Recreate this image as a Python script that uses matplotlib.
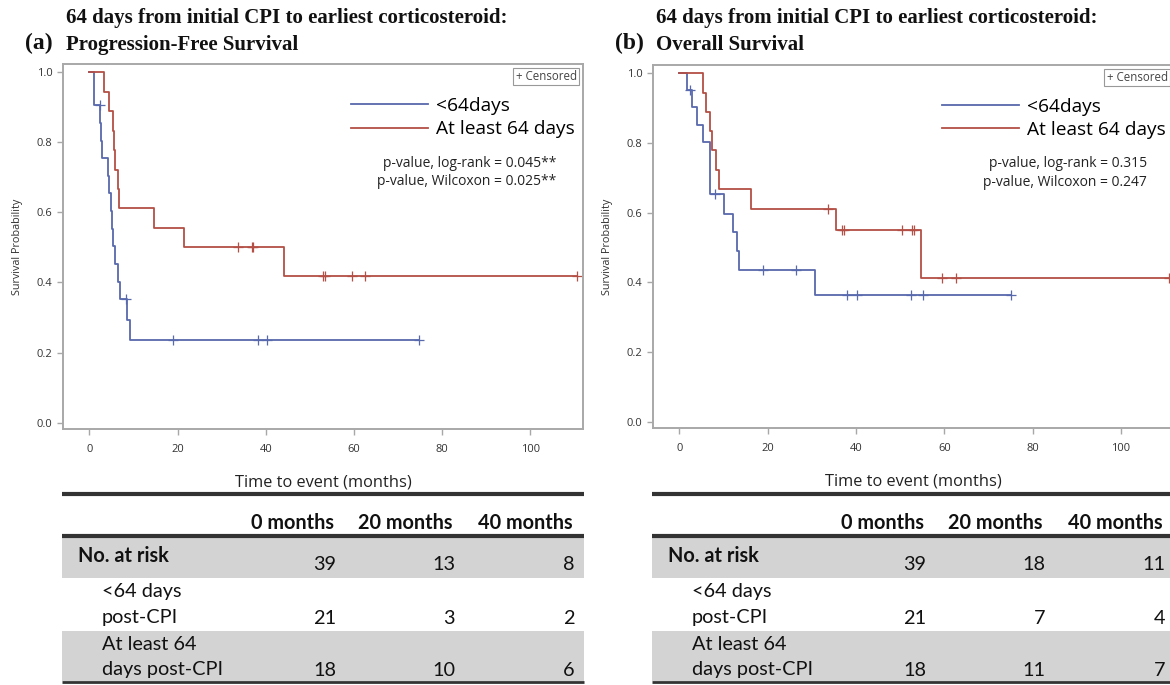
import matplotlib
matplotlib.use('Agg')
import matplotlib.pyplot as plt
from matplotlib.lines import Line2D
from matplotlib.patches import Rectangle
import numpy as np

plt.rcParams['font.family'] = ['Open Sans', 'DejaVu Sans']

# ---- data ----
# PFS, <64 days (step times / survival)
pfs_short_t = [0, 1.0, 2.4, 2.6, 2.9, 4.2, 4.4, 4.9, 5.1, 5.3, 5.9, 6.4, 7.0, 8.5, 9.3]
pfs_short_s = [1.0, 0.905, 0.855, 0.804, 0.754, 0.704, 0.654, 0.603, 0.553, 0.503,
               0.452, 0.402, 0.352, 0.293, 0.235]
pfs_short_cens = [2.3, 8.3, 18.9, 38.3, 40.2, 74.8]
# PFS, at least 64 days
pfs_long_t = [0, 3.2, 4.4, 5.3, 5.5, 5.7, 6.4, 6.6, 14.7, 21.4, 44.2]
pfs_long_s = [1.0, 0.944, 0.889, 0.833, 0.778, 0.722, 0.667, 0.611, 0.556, 0.5, 0.417]
pfs_long_cens = [33.7, 36.8, 37.1, 52.9, 53.4, 59.5, 62.5, 110.7]

# OS, <64 days
os_short_t = [0, 1.7, 2.9, 3.9, 5.4, 6.9, 10.0, 12.2, 13.0, 13.4, 30.7]
os_short_s = [1.0, 0.952, 0.902, 0.852, 0.802, 0.652, 0.597, 0.543, 0.489, 0.434, 0.362]
os_short_cens = [2.4, 8.1, 19.0, 26.5, 38.0, 40.1, 52.5, 55.1, 75.1]
# OS, at least 64 days
os_long_t = [0, 5.4, 5.9, 6.9, 7.3, 8.3, 9.0, 16.2, 35.5, 54.8]
os_long_s = [1.0, 0.944, 0.889, 0.833, 0.778, 0.722, 0.667, 0.611, 0.550, 0.413]
os_long_cens = [33.7, 36.9, 37.2, 50.5, 52.7, 53.2, 59.4, 62.7, 110.8]

group_names = ['<64days', 'At least 64 days']
pfs_pvals = ['p-value, log-rank = 0.045**', 'p-value, Wilcoxon = 0.025**']
os_pvals = ['p-value, log-rank = 0.315', 'p-value, Wilcoxon = 0.247']

risk_cols = ['0 months', '20 months', '40 months']
risk_rows = ['No. at risk', '<64 days\npost-CPI', 'At least 64\ndays post-CPI']
pfs_risk = [[39, 13, 8], [21, 3, 2], [18, 10, 6]]
os_risk = [[39, 18, 11], [21, 7, 4], [18, 11, 7]]

title_line1 = '64 days from initial CPI to earliest corticosteroid:'
titles = ['Progression-Free Survival', 'Overall Survival']
tags = ['(a)', '(b)']

blue = '#5869ad'
red = '#b34f45'
W, H = 1170, 685

fig = plt.figure(figsize=(W / 100, H / 100), dpi=100)

# overlay axes in pixel units for titles / risk tables
tab = fig.add_axes([0, 0, 1, 1])
tab.set_xlim(0, W)
tab.set_ylim(H, 0)
tab.axis('off')


def km_curve(ax, t, s, cens, color):
    t_end = max(max(cens), t[-1])
    tt = list(t) + [t_end]
    ss = list(s) + [s[-1]]
    ax.step(tt, ss, where='post', color=color, lw=1.3)
    idx = np.searchsorted(t, cens, side='right') - 1
    ax.plot(cens, np.array(s)[idx], ls='none', marker='+', ms=7, mew=0.9, color=color)


def panel(ax, curves, pvals):
    for t, s, c, col in curves:
        km_curve(ax, t, s, c, col)
    ax.set_xlim(-6, 112)
    ax.set_ylim(-0.018, 1.023)
    ax.set_xticks([0, 20, 40, 60, 80, 100])
    ax.set_yticks([0.0, 0.2, 0.4, 0.6, 0.8, 1.0])
    ax.set_yticklabels(['0.0', '0.2', '0.4', '0.6', '0.8', '1.0'])
    for sp in ax.spines.values():
        sp.set_color('#a8a8a8')
        sp.set_linewidth(1.4)
    ax.tick_params(colors='#a8a8a8', labelcolor='#333333', labelsize=8, length=4, width=1)
    ax.tick_params(axis='x', pad=7)
    ax.set_ylabel('Survival Probability', fontsize=7.8, color='#333333', labelpad=10)
    ax.set_xlabel('Time to event (months)', fontsize=11.8, color='#222222', labelpad=13.5)
    handles = [Line2D([], [], color=blue, lw=1.3), Line2D([], [], color=red, lw=1.3)]
    ax.legend(handles, group_names, loc='upper right', bbox_to_anchor=(0.985, 0.91),
              frameon=False, fontsize=13.8, handlelength=4.0, handletextpad=0.45,
              labelspacing=0.28, borderpad=0, borderaxespad=0)
    ax.text(0.948, 0.728, pvals[0], transform=ax.transAxes, ha='right', va='center',
            fontsize=10, color='#222222')
    ax.text(0.948, 0.677, pvals[1], transform=ax.transAxes, ha='right', va='center',
            fontsize=10, color='#222222')
    ax.text(0.988, 0.984, '+ Censored', transform=ax.transAxes, ha='right', va='top',
            fontsize=8.3, color='#444444',
            bbox=dict(boxstyle='square,pad=0.2', fc='white', ec='#999999', lw=0.8))


def risk_table(ox, width, counts):
    tab.plot([ox, ox + width], [494, 494], color='#333333', lw=3, solid_capstyle='butt')
    tab.plot([ox, ox + width], [536, 536], color='#333333', lw=3, solid_capstyle='butt')
    tab.plot([ox, ox + width], [682, 682], color='#333333', lw=2, solid_capstyle='butt')
    tab.add_patch(Rectangle((ox, 538), width, 40, color='#d3d3d3', lw=0))
    tab.add_patch(Rectangle((ox, 631), width, 50, color='#d3d3d3', lw=0))
    col_x = [ox + 272, ox + 391, ox + 511]
    fs = 14.3
    for x, lab in zip(col_x, risk_cols):
        tab.text(x, 523, lab, ha='right', va='center', fontsize=fs, fontweight='bold',
                 family='Lato', color='#111111')
    tab.text(ox + 16, 556, risk_rows[0], ha='left', va='center', fontsize=fs,
             fontweight='bold', family='Lato', color='#111111')
    for k, lab in enumerate(risk_rows[1:]):
        l1, l2 = lab.split('\n')
        y2 = [618, 670][k]
        tab.text(ox + 40, y2 - 26, l1, ha='left', va='center', fontsize=fs,
                 family='Lato', color='#111111')
        tab.text(ox + 40, y2, l2, ha='left', va='center', fontsize=fs,
                 family='Lato', color='#111111')
    row_y = [565, 618, 670]
    for r, y in enumerate(row_y):
        for x, v in zip(col_x, counts[r]):
            tab.text(x + 2, y, str(v), ha='right', va='center', fontsize=fs,
                     family='Lato', color='#111111')


axA = fig.add_axes([63 / W, 1 - 429 / H, 520 / W, 365 / H])
panel(axA, [(pfs_short_t, pfs_short_s, pfs_short_cens, blue),
            (pfs_long_t, pfs_long_s, pfs_long_cens, red)], pfs_pvals)

axB = fig.add_axes([653 / W, 1 - 428 / H, 521 / W, 363 / H])
panel(axB, [(os_short_t, os_short_s, os_short_cens, blue),
            (os_long_t, os_long_s, os_long_cens, red)], os_pvals)

risk_table(62, 522, pfs_risk)
risk_table(652, 520, os_risk)

# titles
for ox, tag, t2 in zip([0, 590], tags, titles):
    tab.text(ox + 66, 18, title_line1, ha='left', va='center', fontsize=15,
             family='Liberation Serif', fontweight='bold', color='#111111')
    tab.text(ox + 66, 45, t2, ha='left', va='center', fontsize=15,
             family='Liberation Serif', fontweight='bold', color='#111111')
    tab.text(ox + 39, 43, tag, ha='center', va='center', fontsize=17,
             family='Liberation Serif', fontweight='bold', color='#111111')

plt.savefig('out.png', dpi=100)
